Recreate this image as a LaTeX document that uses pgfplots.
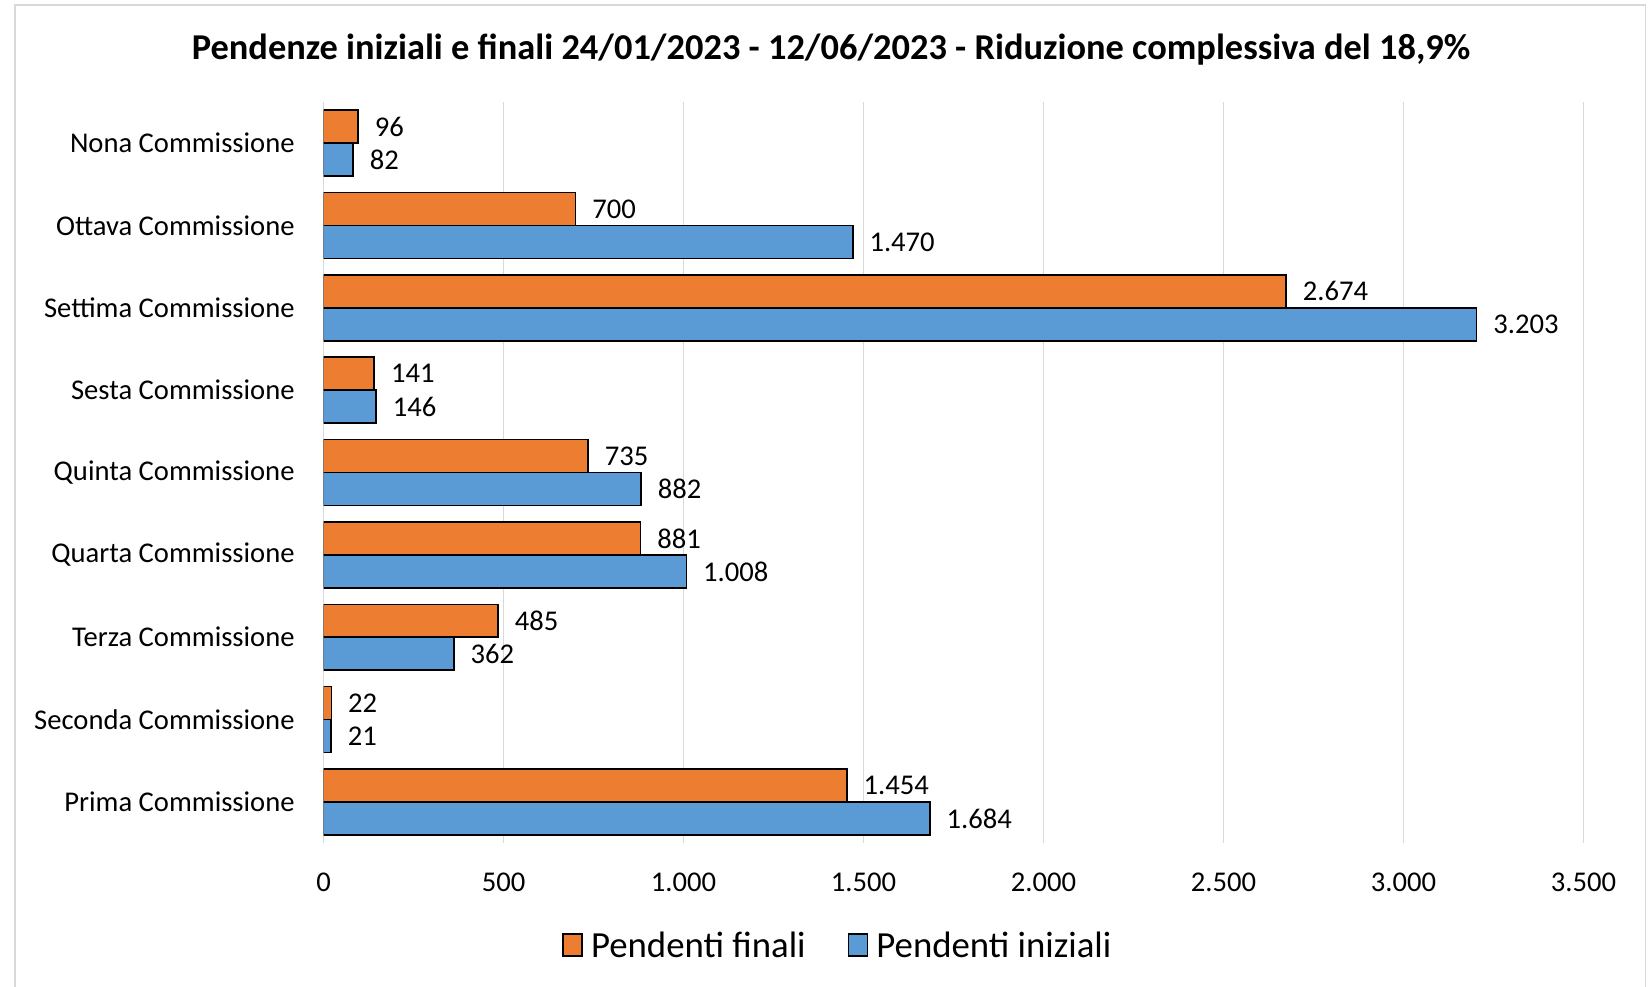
\documentclass[border=0pt]{standalone}
\usepackage{pgfplots}
\pgfplotsset{compat=1.18}
\usepackage{fontspec}
\setmainfont{Carlito}
\definecolor{cOrange}{HTML}{ED7D31}
\definecolor{cBlue}{HTML}{5B9BD5}
\definecolor{cGrid}{HTML}{D9D9D9}
\begin{document}
\begin{tikzpicture}[x=1pt,y=1pt]
\useasboundingbox (0,0) rectangle (826,493);
\draw[cGrid, line width=0.7pt] (7.5,-3) -- (7.5,490.5) -- (822.7,490.5) -- (822.7,-3);
\node[font=\fontsize{18.2}{21}\selectfont\bfseries, anchor=base] at (415.5,463) {Pendenze iniziali e finali 24/01/2023 - 12/06/2023 - Riduzione complessiva del 18,9\%};
\begin{axis}[
  at={(161.75pt,71.4pt)}, anchor=south west, scale only axis,
  width=630pt, height=370.7pt,
  xbar, bar width=0.4,
  xmin=0, xmax=3500, ymin=-0.5, ymax=8.5,
  xtick={0,500,...,3500},
  ytick={0,...,8},
  yticklabels={Prima Commissione, Seconda Commissione, Terza Commissione, Quarta Commissione, Quinta Commissione, Sesta Commissione, Settima Commissione, Ottava Commissione, Nona Commissione},
  xmajorgrids, grid style={cGrid, line width=0.7pt},
  axis line style={draw=none},
  major tick length=0pt, tick style={draw=none},
  /pgf/number format/.cd, 1000 sep={.}, assume math mode=true, /pgfplots/.cd,
  ticklabel style={font=\fontsize{14.3}{16}\selectfont},
  xticklabel style={anchor=center, yshift=-19.4pt},
  yticklabel style={anchor=east, inner sep=0pt, xshift=-14.25pt},
  point meta=x,
  nodes near coords={\pgfmathprintnumber{\pgfplotspointmeta}},
  every node near coord/.append style={font=\fontsize{14.3}{16}\selectfont, anchor=west, inner sep=0pt, xshift=8pt},
  legend columns=2,
  legend style={at={(0.4075,-0.137)}, anchor=center, draw=none, fill=none,
    font=\fontsize{18.4}{21}\selectfont, inner sep=0pt,
    nodes={inner sep=0pt, text depth=0pt},
    /tikz/every odd column/.append style={column sep=4pt},
    /tikz/every even column/.append style={column sep=21pt}},
  legend cell align=left,
  legend image code/.code={\draw[#1, line width=0.8pt] (0pt,-5.5pt) rectangle (9.5pt,5.5pt);},
]
\addplot[fill=cOrange, draw=black, line width=0.8pt, bar shift=0.2] coordinates {
  (1454,0) (22,1) (485,2) (881,3) (735,4) (141,5) (2674,6) (700,7) (96,8)};
\addlegendentry{Pendenti finali}
\addplot[fill=cBlue, draw=black, line width=0.8pt, bar shift=-0.2] coordinates {
  (1684,0) (21,1) (362,2) (1008,3) (882,4) (146,5) (3203,6) (1470,7) (82,8)};
\addlegendentry{Pendenti iniziali}
\end{axis}
\end{tikzpicture}
\end{document}
